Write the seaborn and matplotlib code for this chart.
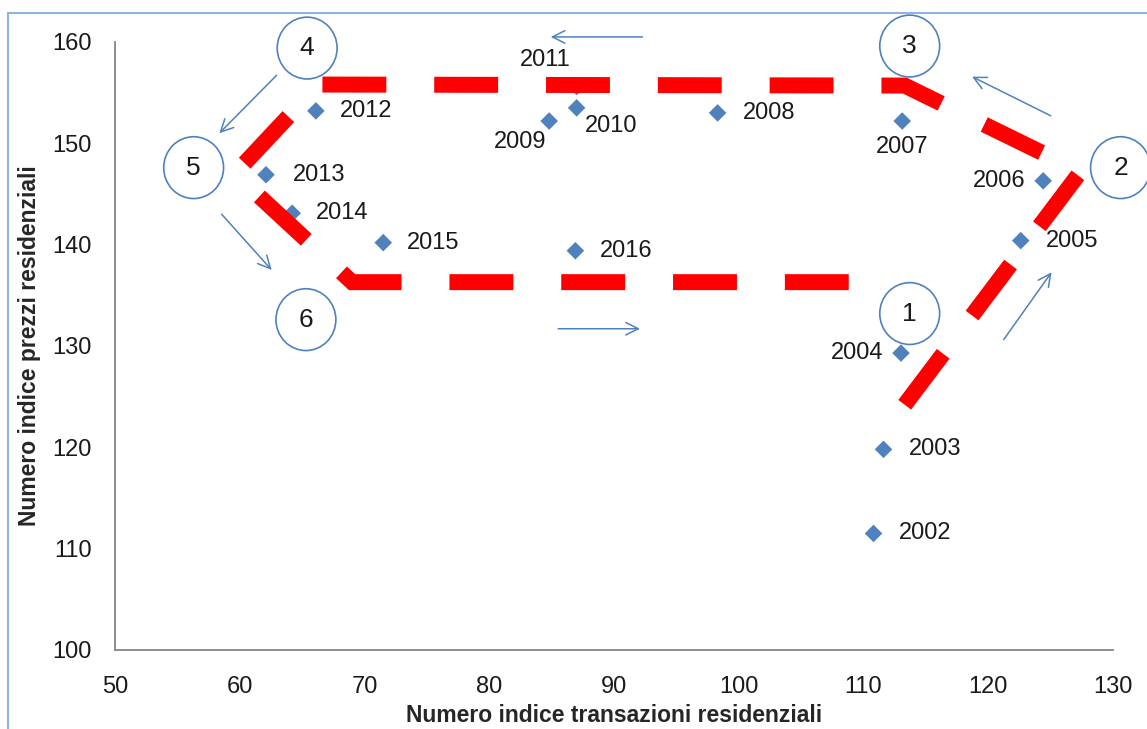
import matplotlib
matplotlib.use("Agg")
import matplotlib.pyplot as plt
from matplotlib.patches import Ellipse
from matplotlib.lines import Line2D
import seaborn as sns

# data
years = ["2002", "2003", "2004", "2005", "2006", "2007", "2008", "2009",
         "2010", "2011", "2012", "2013", "2014", "2015", "2016"]
transazioni = [110.8, 111.6, 113.0, 122.6, 124.4, 113.1, 98.3, 84.8,
               87.0, 87.0, 66.1, 62.1, 64.2, 71.5, 86.9]
prezzi = [111.5, 119.8, 129.3, 140.4, 146.3, 152.2, 153.0, 152.2,
          153.5, 155.6, 153.2, 146.9, 143.1, 140.2, 139.4]

# label offsets in pixels (dx, dy, ha)
label_pos = [(25, 0, "left"), (25, 0, "left"), (-18, 0, "right"), (25, 0, "left"),
             (-18, 0, "right"), (0, -26, "center"), (25, 0, "left"), (-3, -21, "right"),
             (8, -18, "left"), (-31, 27, "center"), (24, 0, "left"), (27, 0, "left"),
             (24, 0, "left"), (24, 0, "left"), (25, 0, "left")]

# cycle phases drawn over the chart
cycle_x = [113.3, 127.4, 113.3, 66.3, 59.6, 69.0, 112.5]
cycle_y = [124.2, 147.2, 155.7, 155.8, 147.0, 136.3, 136.3]

phase_labels = ["1", "2", "3", "4", "5", "6"]
phase_x = [113.7, 130.6, 113.7, 65.4, 56.3, 65.3]
phase_y = [133.2, 147.6, 159.6, 159.4, 147.6, 132.6]

# direction arrows (start -> end) in data units
arrows = [
    ((121.1, 130.4), (125.2, 137.5)),
    ((125.2, 152.6), (118.5, 156.7)),
    ((92.5, 160.5), (84.7, 160.5)),
    ((63.1, 156.9), (58.2, 150.8)),
    ((58.4, 143.2), (62.7, 137.3)),
    ((85.3, 131.7), (92.3, 131.7)),
]

sns.set_style("white")
plt.rcParams["font.family"] = ["Liberation Sans", "DejaVu Sans"]

fig = plt.figure(figsize=(11.47, 7.29), dpi=100)
ax = fig.add_axes([0.1003, 0.1084, 0.8701, 0.834])

blue = "#4f81bd"
sns.scatterplot(x=transazioni, y=prezzi, marker="D", s=80, color=blue,
                edgecolor="none", ax=ax, zorder=3)

for yr, x, y, (dx, dy, ha) in zip(years, transazioni, prezzi, label_pos):
    ax.annotate(yr, (x, y), xytext=(dx, dy), textcoords="offset pixels",
                ha=ha, va="center", fontsize=17, color="#1a1a1a", zorder=4)

ax.plot(cycle_x, cycle_y, color="#ff0000", lw=11.5, linestyle=(0, (4, 3)),
        dash_capstyle="butt", dash_joinstyle="miter", zorder=5, clip_on=False)

for lab, x, y in zip(phase_labels, phase_x, phase_y):
    ax.add_patch(Ellipse((x, y), 4.8, 6.1, facecolor="white", edgecolor=blue,
                         lw=1.2, zorder=6, clip_on=False))
    ax.text(x, y, lab, ha="center", va="center", fontsize=19, color="#1a1a1a",
            zorder=7, clip_on=False)

for (x0, y0), (x1, y1) in arrows:
    ax.annotate("", xy=(x1, y1), xytext=(x0, y0), annotation_clip=False,
                arrowprops=dict(arrowstyle="->,head_length=0.9,head_width=0.45",
                                color=blue, lw=1.1), zorder=6)

ax.set_xlim(50, 130)
ax.set_ylim(100, 160)
ax.set_xticks(range(50, 131, 10))
ax.set_yticks(range(100, 161, 10))
ax.tick_params(axis="both", which="major", labelsize=17, length=7, width=1.2,
               color="#868686", labelcolor="#1a1a1a", direction="out")
ax.tick_params(axis="x", pad=12)
ax.tick_params(axis="y", pad=10)
for side in ["top", "right"]:
    ax.spines[side].set_visible(False)
for side in ["left", "bottom"]:
    ax.spines[side].set_color("#868686")
    ax.spines[side].set_linewidth(1.3)

ax.set_xlabel("Numero indice transazioni residenziali", fontsize=16.5,
              fontweight="bold", labelpad=4)
ax.set_ylabel("Numero indice prezzi residenziali", fontsize=16.5,
              fontweight="bold", labelpad=8)

# outer chart frame
fig.add_artist(Line2D([8 / 1147, 8 / 1147], [0, 1 - 13 / 729], color="#8eb4e3", lw=1.5))
fig.add_artist(Line2D([8 / 1147, 1], [1 - 13 / 729, 1 - 13 / 729], color="#8eb4e3", lw=1.5))

fig.savefig("out.png", dpi=100)
